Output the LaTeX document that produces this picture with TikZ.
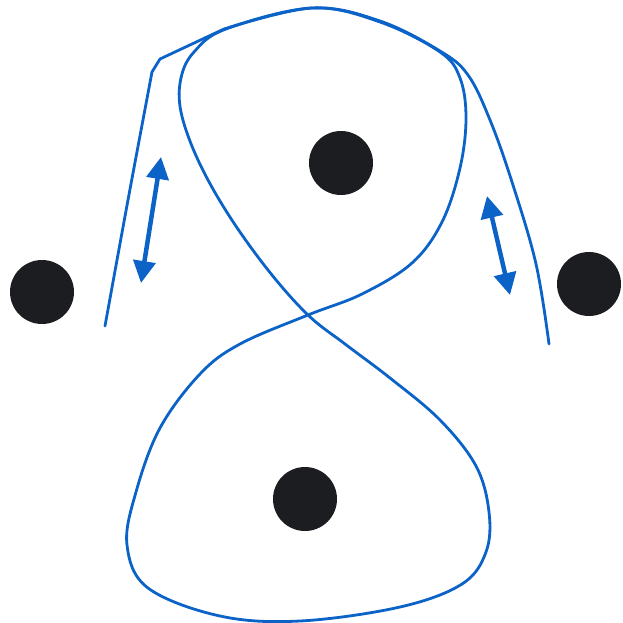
\documentclass[tikz,border=0pt]{standalone}
\usetikzlibrary{arrows.meta}
\definecolor{curveblue}{HTML}{0B63C8}
\definecolor{dotblack}{HTML}{1C1D21}
\begin{document}
\begin{tikzpicture}[x=1pt,y=-1pt,
  curve/.style={draw=curveblue,line width=2.8pt,line cap=round,line join=round},
  dot/.style={circle,fill=dotblack,minimum size=64pt,inner sep=0pt},
  dbl/.style={draw=curveblue,line width=4.5pt,{Triangle[length=22pt,width=22pt]}-{Triangle[length=22pt,width=22pt]}}]
\useasboundingbox (0,0) rectangle (622,623);
% dots
\node[dot] (dl) at (42,292) {};
\node[dot] (dt) at (341,163) {};
\node[dot] (dr) at (589,284) {};
\node[dot] (db) at (305,499) {};
% outer arc
\draw[curve] plot[smooth,tension=0.5] coordinates {(105,326) (128,200) (152,72)}
  -- (160,59) -- (224,29)
  plot[smooth,tension=0.6] coordinates {(224,29) (312,8) (380,21) (440,51) (468,75) (490,120) (512,182) (536,264) (549,344)};
% figure eight
\draw[curve] plot[smooth cycle,tension=0.6] coordinates {
  (312,8) (380,22) (440,52) (460,78) (466,118) (460,168) (442,222)
  (412,263) (362,294) (308,315) (240,344) (200,374) (160,428) (136,492) (127,545)
  (148,588) (220,616) (300,621) (400,607) (462,584) (486,552) (489,512)
  (476,466) (440,420) (390,378) (345,344) (308,315) (268,270) (228,214) (198,160)
  (181,112) (181,78) (194,52) (226,29)};
% arrows
\coordinate (la) at (161,157);
\coordinate (lb) at (141,283);
\coordinate (ra) at (487,196);
\coordinate (rb) at (510,295);
\draw[dbl] (la) -- (lb);
\draw[dbl] (ra) -- (rb);
\end{tikzpicture}
\end{document}
